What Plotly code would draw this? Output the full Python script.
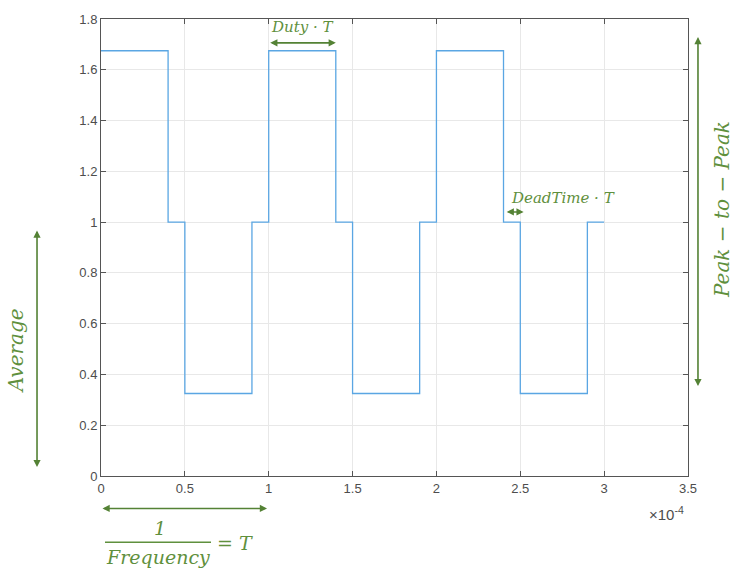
import plotly.graph_objects as go

# time in units of 1e-4 s
time_pts = [0, 0.4, 0.5, 0.9, 1.0, 1.4, 1.5, 1.9, 2.0, 2.4, 2.5, 2.9, 3.0]
levels = [1.675, 1.0, 0.325, 1.0, 1.675, 1.0, 0.325, 1.0, 1.675, 1.0, 0.325, 1.0, 1.0]
x_ticks = [0, 0.5, 1, 1.5, 2, 2.5, 3, 3.5]
x_ticklabels = ["0", "0.5", "1", "1.5", "2", "2.5", "3", "3.5"]
y_ticks = [0, 0.2, 0.4, 0.6, 0.8, 1.0, 1.2, 1.4, 1.6, 1.8]
y_ticklabels = ["0", "0.2", "0.4", "0.6", "0.8", "1", "1.2", "1.4", "1.6", "1.8"]

GREEN = "#548235"
TXT_GREEN = "#5f903d"
SERIF = "DejaVu Serif"
AX = "#555555"
TICKF = dict(family="Liberation Sans, Arial", size=13, color="#4d4d4d")

fig = go.Figure()
fig.add_trace(go.Scatter(x=time_pts, y=levels, mode="lines", line_shape="hv",
                         line=dict(color="#5aa6e3", width=1.3), showlegend=False,
                         hoverinfo="skip"))

fig.update_layout(
    width=734, height=573,
    margin=dict(l=101, r=46, t=14, b=97),
    paper_bgcolor="white", plot_bgcolor="white",
    xaxis=dict(range=[0, 3.5], tickvals=x_ticks, ticktext=x_ticklabels,
               showgrid=True, gridcolor="#e8e8e8", gridwidth=1,
               zeroline=False, showline=True, linecolor=AX, linewidth=1,
               mirror="ticks", ticks="inside", ticklen=5, tickcolor=AX,
               tickfont=TICKF),
    yaxis=dict(range=[0, 1.8], tickvals=y_ticks, ticktext=y_ticklabels,
               showgrid=True, gridcolor="#e8e8e8", gridwidth=1,
               zeroline=False, showline=True, linecolor=AX, linewidth=1,
               mirror="ticks", ticks="inside", ticklen=5, tickcolor=AX,
               tickfont=TICKF),
)

def darrow(x0, y0, x1, y1, xref, yref):
    fig.add_annotation(x=x1, y=y1, ax=x0, ay=y0, xref=xref, yref=yref,
                       axref=xref, ayref=yref, showarrow=True, text=" ",
                       arrowhead=2, startarrowhead=2, arrowside="end+start",
                       arrowsize=0.9, startarrowsize=0.9,
                       arrowwidth=1.6, arrowcolor=GREEN,
                       font=dict(size=1))

def label(x, y, text, xref, yref, size=16, angle=0, xanchor="center", yanchor="middle"):
    fig.add_annotation(x=x, y=y, xref=xref, yref=yref, text=text, showarrow=False,
                       textangle=angle, xanchor=xanchor, yanchor=yanchor,
                       font=dict(family=SERIF, size=size, color=TXT_GREEN))

# Duty * T
darrow(1.0, 1.706, 1.4, 1.706, "x", "y")
label(1.2, 1.77, "<i>Duty · T</i>", "x", "y", size=15)

# DeadTime * T
darrow(2.41, 1.04, 2.52, 1.04, "x", "y")
label(2.43, 1.095, "<i>DeadTime · T</i>", "x", "y", size=15, xanchor="left")

# Period arrow below x axis
darrow(0.0, -0.071, 0.99, -0.071, "x", "y domain")
fig.add_shape(type="line", xref="paper", yref="paper",
              x0=(105 - 101) / 587, x1=(211 - 101) / 587,
              y0=(476 - 543) / 462, y1=(476 - 543) / 462,
              line=dict(color=TXT_GREEN, width=1.3))
label((160 - 101) / 587, (476 - 529) / 462, "<i>1</i>", "paper", "paper", size=19)
label((158 - 101) / 587, (476 - 558) / 462, "<i>Frequency</i>", "paper", "paper", size=19)
label((215 - 101) / 587, (476 - 544) / 462, "<i>= T</i>", "paper", "paper", size=19, xanchor="left")

# Average arrow (left)
darrow(-0.109, 0.975, -0.109, 0.035, "x domain", "y")
label(-0.145, (476 - 349) / 462, "<i>Average</i>", "x domain", "y domain", size=20, angle=-90)

# Peak-to-Peak arrow (right)
darrow(1.017, 1.737, 1.017, 0.354, "x domain", "y")
label(1.058, (476 - 207) / 462, "<i>Peak − to − Peak</i>", "x domain", "y domain", size=20, angle=-90)

# exponent label
fig.add_annotation(x=(686 - 101) / 587, y=(476 - 526) / 462, xref="paper", yref="paper",
                   text="×10<sup>-4</sup>", showarrow=False, xanchor="right",
                   font=dict(family="Liberation Sans, Arial", size=15, color="#4d4d4d"))

fig.write_html("out.html")
